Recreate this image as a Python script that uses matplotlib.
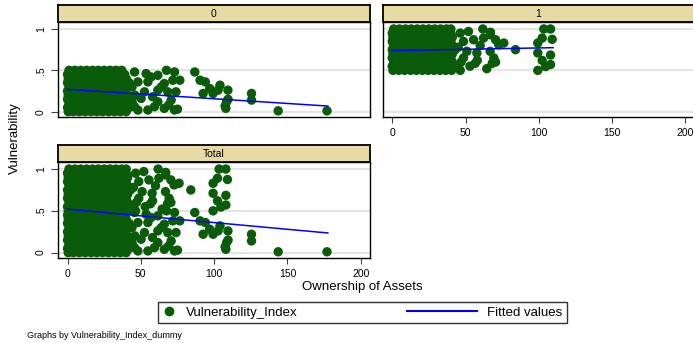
import matplotlib
matplotlib.use("Agg")
import matplotlib.pyplot as plt
import numpy as np
from matplotlib.lines import Line2D
from matplotlib.legend_handler import HandlerLine2D

plt.rcParams['font.family'] = ['Liberation Sans', 'DejaVu Sans']

W, H = 693, 343
GREEN = '#0a5c0a'
BLUE = '#0000ff'
STRIP = '#e7daa5'
GRID = '#e4e4e4'

# Vulnerability_Index_dummy == 0 : dense block, one list of x per y level
blk0_y = [0.00, 0.05, 0.10, 0.15, 0.20, 0.25, 0.30, 0.35, 0.40, 0.45, 0.50]
blk0_x = [
    [0.5, 4, 8, 12, 16, 20, 24, 28, 32, 36, 40],
    [0, 3.5, 7.5, 11.5, 15.5, 19.5, 23.5, 27.5, 31.5, 35.5, 38, 42],
    [1, 5, 9, 13, 17, 21, 25, 29, 33, 37, 40.5],
    [0, 4, 8, 12, 16, 20, 24, 28, 32, 36, 39],
    [0.5, 4.5, 8.5, 12.5, 16.5, 20.5, 24.5, 28.5, 32.5, 36.5, 41],
    [0, 4, 8, 12, 16, 20, 24, 28, 32, 36, 39.5],
    [1, 5, 9, 13, 17, 21, 25, 29, 33, 37, 40],
    [0, 4, 8, 12, 16, 20, 24, 28, 32, 36, 42],
    [0.5, 4.5, 8.5, 12.5, 16.5, 20.5, 24.5, 28.5, 32.5, 36.5, 40],
    [0, 4, 8, 12, 16, 20, 24, 28, 32, 36, 39],
    [1, 5, 9, 13, 17, 21, 25, 29, 33, 37],
]
# ... and the scattered households with more assets
sc0_x = [45.7, 53.6, 61.6, 67.5, 73.0, 86.8, 48.0, 54.8, 66.0, 71.8, 76.6, 90.4,
         94.0, 97.0, 104.0, 102.7, 109.4, 92.5, 99.3, 125.5, 109.5, 108.5, 107.5,
         108.0, 125.5, 143.7, 177.0, 52.5, 61.6, 68.4, 74.0, 50.2, 61.6, 70.7,
         45.7, 54.8, 66.0, 73.0, 48.0, 59.3, 44.0, 46.0, 44.0, 57.0, 64.0, 58.0,
         69.0, 75.0]
sc0_y = [0.48, 0.46, 0.44, 0.50, 0.48, 0.48, 0.36, 0.36, 0.34, 0.38, 0.38, 0.38,
         0.36, 0.28, 0.32, 0.26, 0.26, 0.22, 0.22, 0.22, 0.15, 0.12, 0.07,
         0.04, 0.14, 0.01, 0.01, 0.24, 0.26, 0.24, 0.24, 0.16, 0.12, 0.14,
         0.06, 0.02, 0.04, 0.02, 0.02, 0.06, 0.30, 0.20, 0.12, 0.42, 0.30, 0.18,
         0.08, 0.03]

# Vulnerability_Index_dummy == 1
blk1_y = [0.50, 0.55, 0.60, 0.65, 0.70, 0.75, 0.80, 0.85, 0.90, 0.95, 1.00]
blk1_x = [
    [0.5, 4.5, 8.5, 12.5, 16.5, 20.5, 24.5, 28.5, 32.5, 36.5, 40.5],
    [0, 4, 8, 12, 16, 20, 24, 28, 32, 36, 40, 43],
    [1, 5, 9, 13, 17, 21, 25, 29, 33, 37, 41],
    [0, 4, 8, 12, 16, 20, 24, 28, 32, 36, 40],
    [0.5, 4.5, 8.5, 12.5, 16.5, 20.5, 24.5, 28.5, 32.5, 36.5, 41],
    [0, 4, 8, 12, 16, 20, 24, 28, 32, 36, 40, 43],
    [1, 5, 9, 13, 17, 21, 25, 29, 33, 37, 41],
    [0, 4, 8, 12, 16, 20, 24, 28, 32, 36, 40],
    [0.5, 4.5, 8.5, 12.5, 16.5, 20.5, 24.5, 28.5, 32.5, 36.5, 41],
    [0, 4, 8, 12, 16, 20, 24, 28, 32, 36, 40],
    [1, 5, 9, 13, 17, 21, 25, 29, 33, 37, 40],
]
sc1_x = [46.4, 52.0, 61.8, 66.8, 48.6, 55.5, 62.3, 50.9, 57.7, 66.8, 48.6, 56.6,
         46.4, 64.5, 67.0, 70.5, 76.1, 72.7, 84.1, 69.3, 68.2, 70.5, 103.4, 108.0,
         102.3, 109.1, 99.3, 99.3, 108.0, 102.3, 108.0, 104.6, 99.3, 45.0, 47.0,
         53.0, 60.0, 58.0]
sc1_y = [0.95, 0.97, 1.00, 0.93, 0.85, 0.87, 0.89, 0.73, 0.71, 0.73, 0.65, 0.585,
         0.50, 0.52, 0.96, 0.87, 0.83, 0.81, 0.75, 0.65, 0.585, 0.60, 1.00, 1.00,
         0.89, 0.875, 0.83, 0.71, 0.685, 0.62, 0.57, 0.545, 0.50, 0.78, 0.60,
         0.55, 0.80, 0.62]

# Linear fits (endpoints over the observed asset range)
fit0_x, fit0_y = [0, 177.6], [0.270, 0.068]
fit1_x, fit1_y = [0, 109.8], [0.738, 0.774]
fitT_x, fitT_y = [0, 177.6], [0.520, 0.235]

x_ticks = [0, 50, 100, 150, 200]
y_ticks = [0, 0.5, 1]
y_ticklabels = ['0', '.5', '1']


def block(ys, xs):
    px = [x for y, row in zip(ys, xs) for x in row]
    py = [y for y, row in zip(ys, xs) for x in row]
    return px, py


b0x, b0y = block(blk0_y, blk0_x)
b1x, b1y = block(blk1_y, blk1_x)
g0_x, g0_y = b0x + sc0_x, b0y + sc0_y
g1_x, g1_y = b1x + sc1_x, b1y + sc1_y
gT_x, gT_y = g0_x + g1_x, g0_y + g1_y


def rect(l, t, r, b):
    return [l / W, 1 - b / H, (r - l) / W, (b - t) / H]


fig = plt.figure(figsize=(W / 100, H / 100), dpi=100)

panels = [
    ('0', (58.3, 21.7, 369.5, 117.3), g0_x, g0_y, fit0_x, fit0_y, True, False),
    ('1', (383.0, 21.7, 694.2, 117.3), g1_x, g1_y, fit1_x, fit1_y, False, True),
    ('Total', (58.3, 161.7, 369.5, 258.3), gT_x, gT_y, fitT_x, fitT_y, True, True),
]

for title, (l, t, r, b), xs, ys, fx, fy, show_y, show_x in panels:
    ax = fig.add_axes(rect(l, t, r, b))
    ax.scatter(xs, ys, s=46, color=GREEN, edgecolors='none', zorder=3)
    ax.plot(fx, fy, color=BLUE, lw=1.1, zorder=4)
    ax.set_xlim(-6.3, 206)
    ax.set_ylim(-0.068, 1.088)
    ax.set_yticks(y_ticks)
    ax.yaxis.grid(True, color=GRID, lw=1.6, zorder=0)
    ax.set_axisbelow(True)
    for s in ax.spines.values():
        s.set_linewidth(1.0)
        s.set_color('black')
    if show_y:
        ax.set_yticklabels(y_ticklabels, rotation=90, va='center')
        ax.tick_params(axis='y', length=5, width=0.8, color='#404040',
                       pad=4, labelsize=7.5)
    else:
        ax.tick_params(axis='y', length=0, labelleft=False)
    if show_x:
        ax.set_xticks(x_ticks)
        ax.tick_params(axis='x', length=4, width=0.8, color='#404040',
                       pad=4, labelsize=7.5)
    else:
        ax.set_xticks([])

    # title strip above each panel
    sax = fig.add_axes(rect(l, t - 16.7, r, t))
    sax.set_facecolor(STRIP)
    sax.set_xticks([])
    sax.set_yticks([])
    for s in sax.spines.values():
        s.set_linewidth(1.3)
        s.set_color('black')
    sax.text(0.5, 0.45, title, ha='center', va='center', fontsize=7.5,
             transform=sax.transAxes)

fig.text(15 / W, 1 - 138 / H, 'Vulnerability', rotation=90, ha='center',
         va='center', fontsize=9.5)
fig.text(362 / W, 1 - 287 / H, 'Ownership of Assets', ha='center',
         va='center', fontsize=9.5)


class LongLine(HandlerLine2D):
    # stretch the line sample to the left, into the column gap
    def create_artists(self, legend, orig_handle, xdescent, ydescent,
                       width, height, fontsize, trans):
        extra = 4.3 * fontsize
        return super().create_artists(legend, orig_handle, xdescent + extra,
                                      ydescent, width + extra, height,
                                      fontsize, trans)


h_dot = Line2D([], [], marker='o', ls='none', color=GREEN, markersize=6)
h_fit = Line2D([], [], color=BLUE, lw=1.5)
leg = fig.legend([h_dot, h_fit], ['Vulnerability_Index', 'Fitted values'],
                 loc='lower left', ncol=2, mode='expand',
                 bbox_to_anchor=rect(158, 300, 567, 323.3),
                 handler_map={h_fit: LongLine()},
                 fontsize=9.5, frameon=True, fancybox=False, borderaxespad=0,
                 handlelength=1.0, handletextpad=0.8, borderpad=0.35)
leg.get_frame().set_edgecolor('black')
leg.get_frame().set_linewidth(1.0)

fig.text(27 / W, 1 - 335 / H, 'Graphs by Vulnerability_Index_dummy',
         ha='left', va='center', fontsize=6.5)

fig.savefig('out.png', dpi=100, facecolor='white')
